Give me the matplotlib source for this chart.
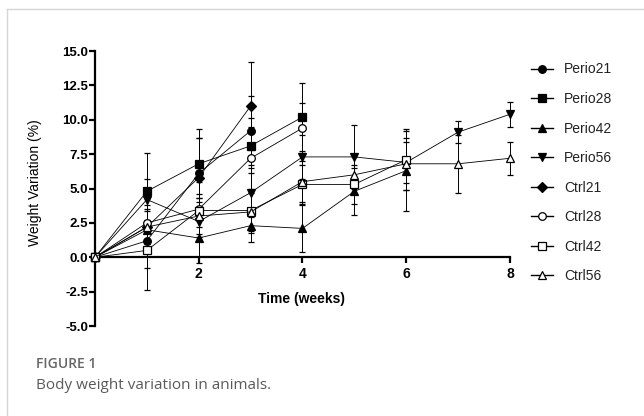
import matplotlib
matplotlib.use("Agg")
import matplotlib.pyplot as plt
from matplotlib.lines import Line2D

# weeks for each group (21, 28, 42, 56 days)
weeks21 = [0, 1, 2, 3]
weeks28 = [0, 1, 2, 3, 4]
weeks42 = [0, 1, 2, 3, 4, 5, 6]
weeks56 = [0, 1, 2, 3, 4, 5, 6, 7, 8]

# mean weight variation (%)
perio21 = [0.0, 1.2, 6.1, 9.2]
perio28 = [0.0, 4.8, 6.8, 8.1, 10.2]
perio42 = [0.0, 2.0, 1.4, 2.3, 2.1, 4.8, 6.3]
perio56 = [0.0, 4.2, 2.6, 4.7, 7.3, 7.3, 6.9, 9.1, 10.4]
ctrl21 = [0.0, 2.2, 5.8, 11.0]
ctrl28 = [0.0, 2.5, 3.5, 7.2, 9.4]
ctrl42 = [0.0, 0.5, 3.4, 3.4, 5.3, 5.3, 7.1]
ctrl56 = [0.0, 2.2, 3.0, 3.3, 5.5, 6.0, 6.8, 6.8, 7.2]

# error bars (+/-)
perio21_err = [0, 3.6, 2.6, 2.5]
perio28_err = [0, 2.8, 2.5, 2.0, 2.5]
perio42_err = [0, 1.5, 1.8, 1.2, 1.7, 1.7, 2.9]
perio56_err = [0, 1.5, 1.4, 1.8, 1.6, 2.3, 1.5, 0.8, 0.9]
ctrl21_err = [0, 1.6, 2.9, 3.2]
ctrl28_err = [0, 2.2, 2.0, 2.3, 1.8]
ctrl42_err = [0, 1.3, 1.2, 1.6, 1.4, 1.4, 2.2]
ctrl56_err = [0, 1.2, 1.3, 1.4, 1.5, 1.4, 1.9, 2.1, 1.2]

labels = ["Perio21", "Perio28", "Perio42", "Perio56",
          "Ctrl21", "Ctrl28", "Ctrl42", "Ctrl56"]

series = [
    (weeks21, perio21, perio21_err, "o", "black"),
    (weeks28, perio28, perio28_err, "s", "black"),
    (weeks42, perio42, perio42_err, "^", "black"),
    (weeks56, perio56, perio56_err, "v", "black"),
    (weeks21, ctrl21, ctrl21_err, "D", "black"),
    (weeks28, ctrl28, ctrl28_err, "o", "white"),
    (weeks42, ctrl42, ctrl42_err, "s", "white"),
    (weeks56, ctrl56, ctrl56_err, "^", "white"),
]

plt.rcParams['font.family'] = ['Liberation Sans', 'DejaVu Sans']

fig = plt.figure(figsize=(6.44, 4.16), dpi=100)
ax = fig.add_axes([0.1475, 0.2163, 0.6444, 0.661])

handles = []
for (x, y, e, m, fc), lab in zip(series, labels):
    ms = 5 if m == "D" else 5.5
    ax.errorbar(x, y, yerr=e, color="black", lw=0.6, elinewidth=0.7,
                capsize=2.2, capthick=0.7, marker=m, ms=ms, mfc=fc,
                mec="black", mew=0.9, clip_on=False, zorder=3)
    handles.append(Line2D([0], [0], color="black", lw=1.0, marker=m,
                          ms=ms, mfc=fc, mec="black", mew=0.9))

ax.set_xlim(0, 8)
ax.set_ylim(-5, 15)
ax.set_xticks([2, 4, 6, 8])
ax.set_yticks([-5, -2.5, 0, 2.5, 5, 7.5, 10, 12.5, 15])
ax.set_yticklabels(["-5.0", "-2.5", "0.0", "2.5", "5.0", "7.5", "10.0", "12.5", "15.0"])
ax.spines["top"].set_visible(False)
ax.spines["right"].set_visible(False)
ax.spines["bottom"].set_position(("data", 0))
ax.spines["left"].set_linewidth(1.6)
ax.spines["bottom"].set_linewidth(1.6)
ax.tick_params(axis="y", direction="out", length=4, width=1.6, labelsize=9.5, pad=1)
ax.tick_params(axis="x", direction="out", length=4, width=1.6, labelsize=10, pad=3)
for t in ax.get_xticklabels() + ax.get_yticklabels():
    t.set_fontweight("bold")

fig.text(0.468, 0.282, "Time (weeks)", ha="center", va="center",
         fontsize=10, fontweight="bold")
fig.text(0.055, 0.562, "Weight Variation (%)", ha="center", va="center",
         rotation=90, fontsize=10)

leg = fig.legend(handles, labels, loc="upper left", bbox_to_anchor=(0.805, 0.88),
                 frameon=False, fontsize=10, handlelength=1.6, handletextpad=0.8,
                 labelspacing=1.12)
for t in leg.get_texts():
    t.set_color("#222222")

# page frame lines
fig.add_artist(Line2D([0.0115, 1.0], [0.978, 0.978], color="#d6d6d6", lw=1.0))
fig.add_artist(Line2D([0.0115, 0.0115], [0.0, 0.978], color="#d6d6d6", lw=1.0))

fig.text(0.056, 0.125, "FIGURE 1", ha="left", va="center", fontsize=10,
         fontweight="semibold", color="#666666", family="Open Sans")
fig.text(0.056, 0.074, "Body weight variation in animals.", ha="left", va="center",
         fontsize=11, color="#5a5a5a", family="Open Sans")

fig.savefig("out.png", dpi=100)
